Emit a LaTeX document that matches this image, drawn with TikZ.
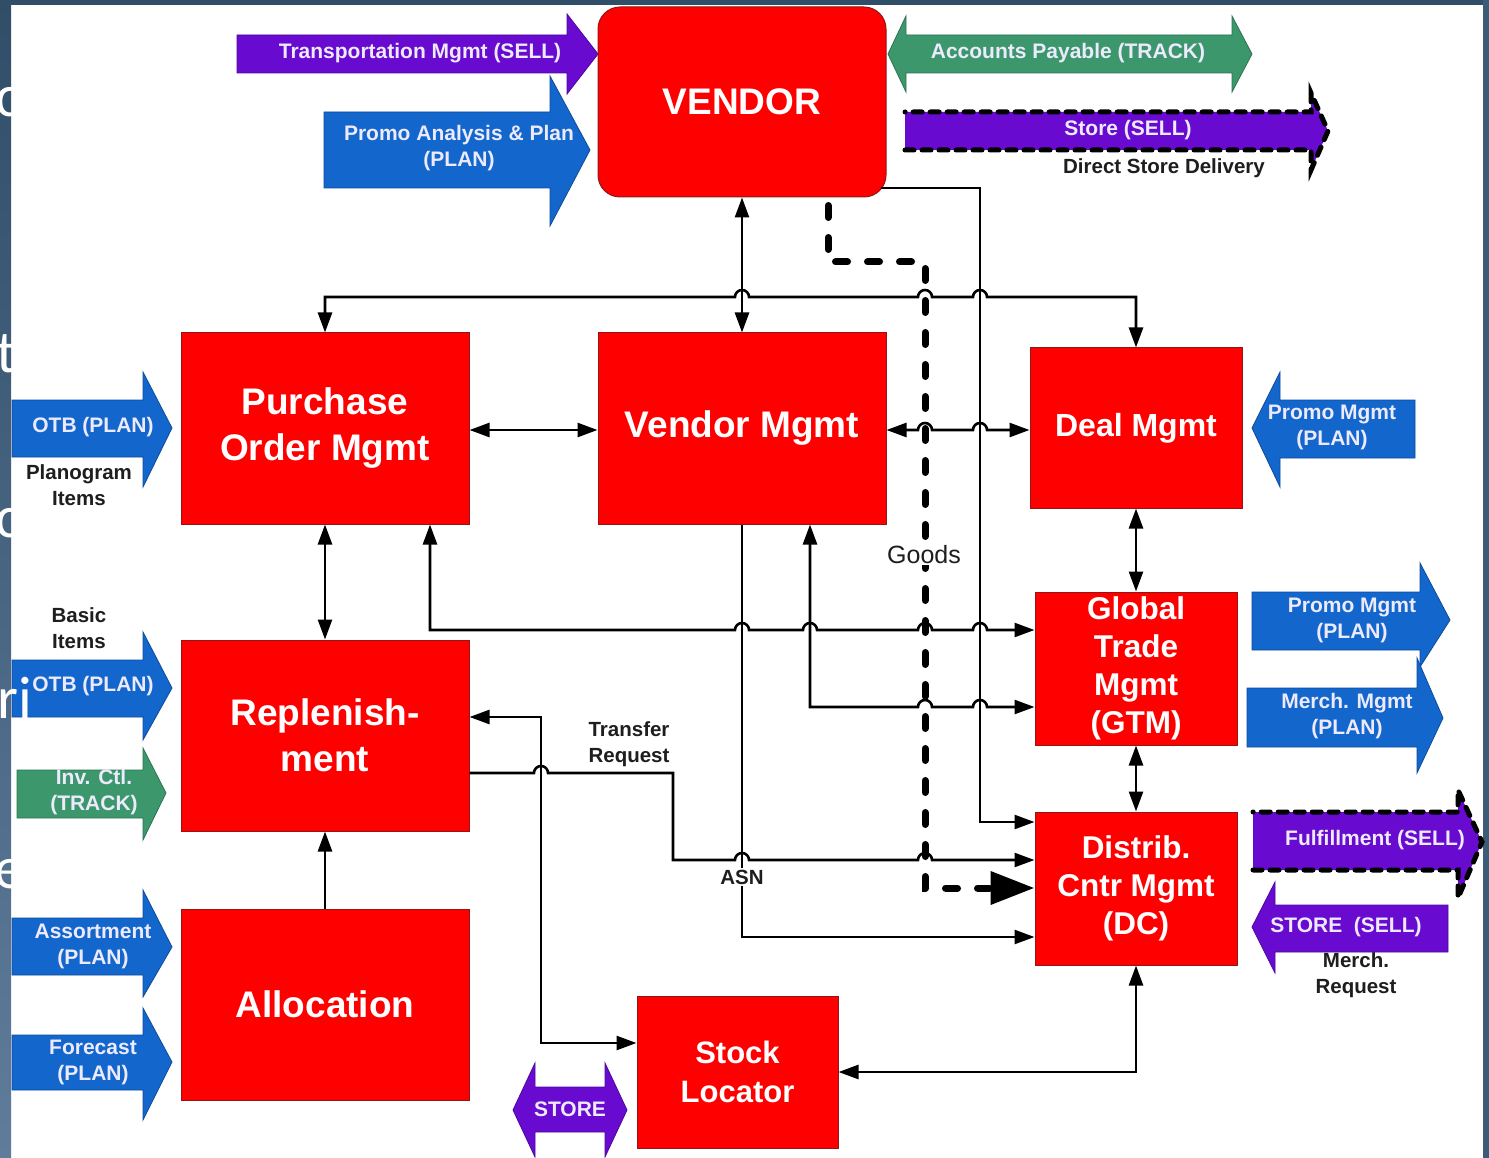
\documentclass[tikz,border=0pt]{standalone}
\usepackage{fontspec}
\setmainfont{Liberation Sans}
\newfontfamily\slidefont{Carlito}
\usetikzlibrary{arrows.meta,calc}
\definecolor{boxred}{RGB}{255,0,0}
\definecolor{boxedge}{RGB}{150,20,20}
\definecolor{planblue}{RGB}{18,102,204}
\definecolor{sellpurple}{RGB}{104,10,208}
\definecolor{trackgreen}{RGB}{60,152,108}
\definecolor{slateT}{RGB}{48,78,104}
\definecolor{slateB}{RGB}{95,125,155}
\definecolor{slateR}{RGB}{60,92,120}
\definecolor{arrowtext}{RGB}{236,234,252}
\definecolor{labeltext}{RGB}{30,30,30}
\begin{document}
\begin{tikzpicture}[x=1pt,y=-1pt,
  redbox/.style={draw=boxedge,line width=1pt,fill=boxred,text=white,
    font=\bfseries\fontsize{37}{46}\selectfont,align=center,inner sep=0pt},
  smallred/.style={redbox,font=\bfseries\fontsize{31.5}{38}\selectfont},
  atext/.style={text=arrowtext,font=\bfseries\fontsize{21}{26}\selectfont,align=center,inner sep=0pt},
  blabel/.style={text=labeltext,font=\bfseries\fontsize{20.5}{26}\selectfont,align=center,inner sep=2pt},
  conn/.style={line width=2.6pt,draw=black,line join=miter,>={Triangle[length=20pt,width=14pt]}},
  goodsline/.style={line width=7pt,draw=black,line cap=round,dash pattern=on 12pt off 20pt,
    -{Triangle[length=44pt,width=32pt]}},
  dashedge/.style={line width=5pt,draw=black,line cap=round,dash pattern=on 9pt off 8pt},
  planarrow/.style={fill=planblue,draw=planblue!75!black,line width=0.8pt},
  sellarrow/.style={fill=sellpurple,draw=sellpurple!75!black,line width=0.8pt},
  trackarrow/.style={fill=trackgreen,draw=trackgreen!75!black,line width=0.8pt},
  remnant/.style={text=white,font=\slidefont\fontsize{60}{60}\selectfont,inner sep=0pt,anchor=base west}
]
\useasboundingbox (0,0) rectangle (1489,1158);
% background frame
\fill[white] (0,0) rectangle (1489,1158);
\shade[top color=slateT,bottom color=slateB] (0,0) rectangle (11,1158);
\fill[slateT] (0,0) rectangle (1489,5);
\fill[slateR] (1483,0) rectangle (1489,1158);

% ---------- block arrows ----------
% Transportation Mgmt (SELL)
\path[sellarrow] (237,35) -- (567,35) -- (567,14) -- (598,54) -- (567,94) -- (567,73) -- (237,73) -- cycle;
\node[atext] (tm) at (420,53) {Transportation Mgmt (SELL)};
% Promo Analysis & Plan
\path[planarrow] (324,112) -- (550,112) -- (550,76) -- (590,150) -- (550,226) -- (550,188) -- (324,188) -- cycle;
\node[atext] (pap) at (459,148) {Promo Analysis \& Plan\\(PLAN)};
% Accounts Payable (TRACK)
\path[trackarrow] (888,54) -- (906,16) -- (906,35) -- (1232,35) -- (1232,16) -- (1252,54) -- (1232,92) -- (1232,73) -- (906,73) -- (906,92) -- cycle;
\node[atext] (ap) at (1068,53) {Accounts Payable (TRACK)};
% Store (SELL) - direct store delivery
\fill[sellpurple] (905,112) -- (1311,112) -- (1311,93) -- (1328,131) -- (1311,170) -- (1311,150) -- (905,150) -- cycle;
\draw[dashedge] (905,150) -- (1311,150) -- (1311,170) -- (1328,131) -- (1311,93) -- (1311,112) -- (905,112);
\node[atext] (storesell) at (1128,130) {Store (SELL)};
\node[blabel] (dsd) at (1164,168) {Direct Store Delivery};
% OTB (PLAN) top
\path[planarrow] (12,400) -- (143,400) -- (143,372) -- (172,428) -- (143,487) -- (143,457) -- (12,457) -- cycle;
\node[atext] (otb1) at (93,427) {OTB (PLAN)};
\node[blabel] (plano) at (79,485) {Planogram\\Items};
% OTB (PLAN) lower
\node[blabel] (basic) at (79,628) {Basic\\Items};
\path[planarrow] (12,660) -- (143,660) -- (143,632) -- (172,688) -- (143,740) -- (143,717) -- (12,717) -- cycle;
\node[atext] (otb2) at (93,686) {OTB (PLAN)};
% Inv. Ctl. (TRACK)
\path[trackarrow] (17,770) -- (143,770) -- (143,748) -- (166,793) -- (143,840) -- (143,818) -- (17,818) -- cycle;
\node[atext] (inv) at (94,792) {Inv. Ctl.\\(TRACK)};
% Assortment (PLAN)
\path[planarrow] (12,918) -- (143,918) -- (143,890) -- (172,947) -- (143,997) -- (143,975) -- (12,975) -- cycle;
\node[atext] (asst) at (93,946) {Assortment\\(PLAN)};
% Forecast (PLAN)
\path[planarrow] (12,1035) -- (143,1035) -- (143,1008) -- (172,1062) -- (143,1120) -- (143,1090) -- (12,1090) -- cycle;
\node[atext] (fc) at (93,1062) {Forecast\\(PLAN)};
% Promo Mgmt (PLAN) into Deal Mgmt
\path[planarrow] (1415,400) -- (1280,400) -- (1280,372) -- (1252,428) -- (1280,487) -- (1280,458) -- (1415,458) -- cycle;
\node[atext] (pm1) at (1332,427) {Promo Mgmt\\(PLAN)};
% Promo Mgmt (PLAN) out of GTM
\path[planarrow] (1252,592) -- (1420,592) -- (1420,563) -- (1450,620) -- (1420,667) -- (1420,650) -- (1252,650) -- cycle;
\node[atext] (pm2) at (1352,620) {Promo Mgmt\\(PLAN)};
% Merch. Mgmt (PLAN)
\path[planarrow] (1247,688) -- (1417,688) -- (1417,658) -- (1443,718) -- (1417,773) -- (1417,747) -- (1247,747) -- cycle;
\node[atext] (mm) at (1347,716) {Merch. Mgmt\\(PLAN)};
% Fulfillment (SELL)
\fill[sellpurple] (1253,812) -- (1458,812) -- (1458,790) -- (1482,842) -- (1458,898) -- (1458,870) -- (1253,870) -- cycle;
\draw[dashedge] (1253,870) -- (1458,870) -- (1458,898) -- (1482,842) -- (1458,790) -- (1458,812) -- (1253,812);
\node[atext] (ful) at (1375,840) {Fulfillment (SELL)};
% STORE (SELL)
\path[sellarrow] (1448,905) -- (1275,905) -- (1275,882) -- (1252,927) -- (1275,973) -- (1275,952) -- (1448,952) -- cycle;
\node[atext] (ss) at (1346,927) {STORE~~(SELL)};
\node[blabel] (mr) at (1356,975) {Merch.\\Request};
% STORE double arrow
\path[sellarrow] (513,1110) -- (535,1063) -- (535,1087) -- (605,1087) -- (605,1063) -- (627,1110) -- (605,1157) -- (605,1132) -- (535,1132) -- (535,1157) -- cycle;
\node[atext] (store) at (570,1109) {STORE};

% ---------- red boxes ----------
\node[redbox,rounded corners=22pt,minimum width=288pt,minimum height=190pt] (vendor) at (742,102) {VENDOR};
\node[redbox,minimum width=288pt,minimum height=191pt] (po) at (325,428.5) {Purchase\\Order Mgmt};
\node[redbox,minimum width=288pt,minimum height=191pt] (vm) at (742,428.5) {Vendor Mgmt};
\node[redbox,font=\bfseries\fontsize{32}{38}\selectfont,minimum width=212pt,minimum height=160pt] (deal) at (1136,428) {Deal Mgmt};
\node[smallred,minimum width=202pt,minimum height=153pt] (gtm) at (1136,668.5) {Global\\Trade\\Mgmt\\(GTM)};
\node[smallred,minimum width=202pt,minimum height=153pt] (dc) at (1136,888.5) {Distrib.\\Cntr Mgmt\\(DC)};
\node[redbox,minimum width=288pt,minimum height=191pt] (rep) at (325,735.5) {Replenish-\\ment};
\node[redbox,minimum width=288pt,minimum height=191pt] (alloc) at (325,1004.5) {Allocation};
\node[smallred,font=\bfseries\fontsize{31}{39}\selectfont,minimum width=201pt,minimum height=152pt] (sl) at (737.5,1072) {Stock\\Locator};

% ---------- goods flow ----------
\draw[goodsline] ([yshift=-8pt]vendor.south -| 828,0) -- (828,262) -- (925,262) -- (925,888) -- (dc.west |- 0,888);
\node[fill=white,text=labeltext,font=\fontsize{25}{30}\selectfont,inner sep=1pt] (goods) at (924,555) {Goods};

% ---------- connectors ----------
\draw[conn,<->] (vendor.south) -- (vm.north);
\draw[conn,<->] (po.north) -- (po.north |- 0,297) -- (735,297)
  arc[start angle=180,end angle=360,radius=7] -- (918,297)
  arc[start angle=180,end angle=360,radius=7] -- (973,297)
  arc[start angle=180,end angle=360,radius=7] -- (deal.north |- 0,297) -- (deal.north);
\draw[conn,->] ([xshift=-6pt]vendor.east |- 0,188) -| (980,822) -- (dc.west |- 0,822);
\draw[conn,<->] (po.east |- 0,430) -- (vm.west |- 0,430);
\draw[conn,<->] (vm.east |- 0,430) -- (918,430)
  arc[start angle=180,end angle=360,radius=7] -- (973,430)
  arc[start angle=180,end angle=360,radius=7] -- (deal.west |- 0,430);
\draw[conn,<->] (po.south) -- (rep.north);
\draw[conn,->] (alloc.north) -- (rep.south);
\draw[conn,<->] (po.south -| 430,0) -- (430,630) -- (735,630)
  arc[start angle=180,end angle=360,radius=7] -- (803,630)
  arc[start angle=180,end angle=360,radius=7] -- (918,630)
  arc[start angle=180,end angle=360,radius=7] -- (973,630)
  arc[start angle=180,end angle=360,radius=7] -- (gtm.west |- 0,630);
\draw[conn,<->] (vm.south -| 810,0) -- (810,707) -- (918,707)
  arc[start angle=180,end angle=360,radius=7] -- (973,707)
  arc[start angle=180,end angle=360,radius=7] -- (gtm.west |- 0,707);
\node[blabel] (asn) at (742,877) {ASN};
\draw[conn] (vm.south) -- (asn.north);
\draw[conn,->] (asn.south) |- (dc.west |- 0,937);
\draw[conn,->] (rep.east |- 0,773) -- (534,773)
  arc[start angle=180,end angle=360,radius=7] -- (673,773) -- (673,860) -- (735,860)
  arc[start angle=180,end angle=360,radius=7] -- (918,860)
  arc[start angle=180,end angle=360,radius=7] -- (dc.west |- 0,860);
\node[blabel] (tr) at (629,744) {Transfer\\Request};
\draw[conn,<->] (rep.east |- 0,717) -| (541,1043) -- (sl.west |- 0,1043);
\draw[conn,<->] (dc.south) |- (sl.east |- 0,1072);
\draw[conn,<->] (deal.south) -- (gtm.north);
\draw[conn,<->] (gtm.south) -- (dc.north);

% ---------- slide text remnants at the left edge ----------
\node[remnant] (r1) at (-5,117) {c};
\node[remnant] (r2) at (-4,372) {t};
\node[remnant] (r3) at (-5,537) {c};
\node[remnant] (r4) at (-3,718) {ri};
\node[remnant] (r5) at (-6,888) {e};
\end{tikzpicture}
\end{document}
